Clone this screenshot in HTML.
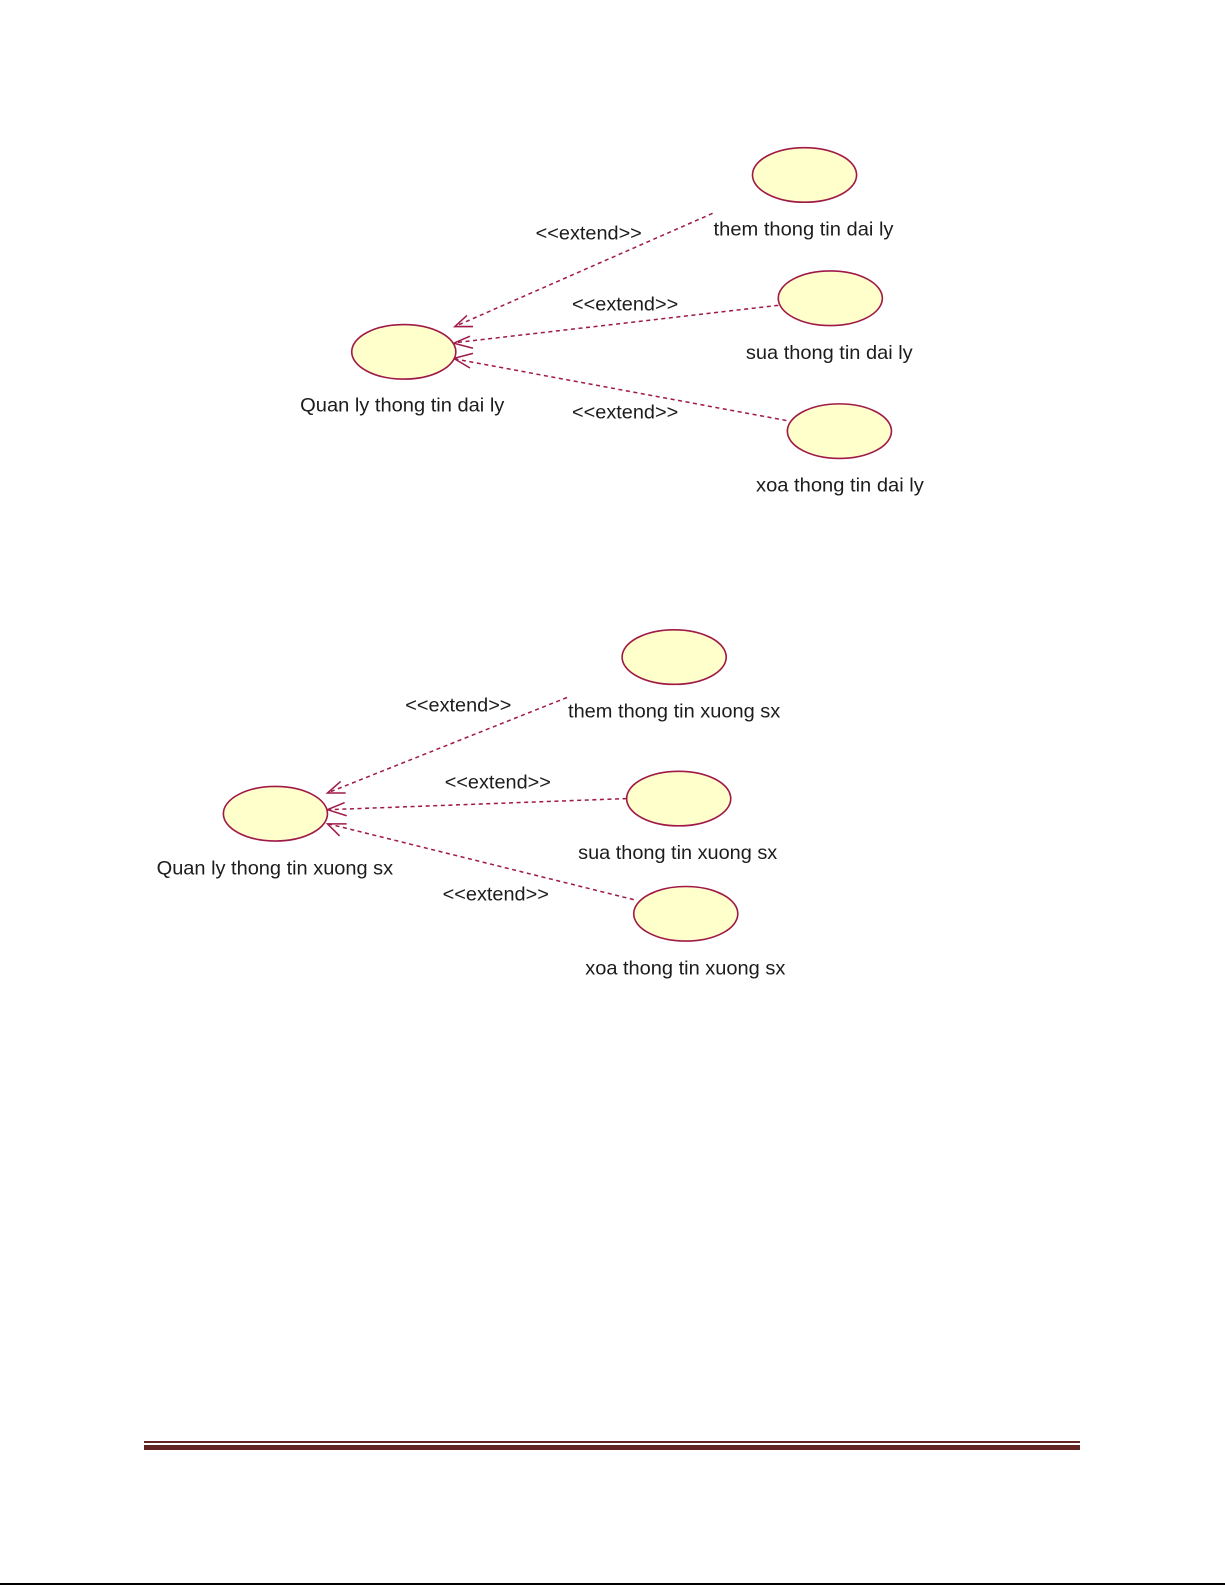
<!DOCTYPE html>
<html>
<head>
<meta charset="utf-8">
<style>
html,body{margin:0;padding:0;background:#fff;width:1225px;height:1585px;overflow:hidden}
#c{position:relative;width:1225px;height:1585px;background:#fff;overflow:hidden}
svg{position:absolute;left:0;top:0;filter:blur(0.35px)}
.r{position:absolute;background:#622423}
text{font-family:"Liberation Sans",sans-serif;font-size:19px;fill:#1c1c1c}
ellipse{fill:#ffffcc;stroke:#a01a48;stroke-width:1.6}
.d{fill:none;stroke:#a01a48;stroke-width:1.5;stroke-dasharray:4 3.5}
.a{fill:none;stroke:#a01a48;stroke-width:1.5}
</style>
</head>
<body>
<div id="c">
<svg width="1225" height="1585" viewBox="0 0 1212 1568" xmlns="http://www.w3.org/2000/svg">
  <!-- top group -->
  <line class="d" x1="705" y1="211" x2="450" y2="323"/>
  <polyline class="a" points="462,312 450,323 468,323"/>
  <line class="d" x1="770" y1="302" x2="450" y2="339"/>
  <polyline class="a" points="465,332.5 449,339.5 468,344.5"/>
  <line class="d" x1="778" y1="416" x2="450" y2="355"/>
  <polyline class="a" points="468,349.5 449,354.5 465,364"/>
  <ellipse cx="399.5" cy="348" rx="51.5" ry="27"/>
  <ellipse cx="796" cy="173" rx="51.5" ry="27"/>
  <ellipse cx="821.5" cy="295" rx="51.5" ry="27"/>
  <ellipse cx="830.5" cy="426.5" rx="51.5" ry="27"/>
  <text x="530" y="237" textLength="105" lengthAdjust="spacingAndGlyphs">&lt;&lt;extend&gt;&gt;</text>
  <text x="566" y="307" textLength="105" lengthAdjust="spacingAndGlyphs">&lt;&lt;extend&gt;&gt;</text>
  <text x="566" y="414" textLength="105" lengthAdjust="spacingAndGlyphs">&lt;&lt;extend&gt;&gt;</text>
  <text x="706" y="233" textLength="178" lengthAdjust="spacingAndGlyphs">them thong tin dai ly</text>
  <text x="738" y="355" textLength="165" lengthAdjust="spacingAndGlyphs">sua thong tin dai ly</text>
  <text x="748" y="486" textLength="166" lengthAdjust="spacingAndGlyphs">xoa thong tin dai ly</text>
  <text x="297" y="407" textLength="202" lengthAdjust="spacingAndGlyphs">Quan ly thong tin dai ly</text>
  <!-- bottom group -->
  <line class="d" x1="561" y1="690" x2="325" y2="784"/>
  <polyline class="a" points="337,773 324,784.5 342,784.5"/>
  <line class="d" x1="620" y1="790" x2="325" y2="801"/>
  <polyline class="a" points="341,794 324,801 343,807"/>
  <line class="d" x1="627" y1="890" x2="325" y2="815"/>
  <polyline class="a" points="343,815 324,815 336,827"/>
  <ellipse cx="272.5" cy="805" rx="51.5" ry="27"/>
  <ellipse cx="667" cy="650" rx="51.5" ry="27"/>
  <ellipse cx="671.5" cy="790" rx="51.5" ry="27"/>
  <ellipse cx="678.5" cy="904" rx="51.5" ry="27"/>
  <text x="401" y="704" textLength="105" lengthAdjust="spacingAndGlyphs">&lt;&lt;extend&gt;&gt;</text>
  <text x="440" y="780" textLength="105" lengthAdjust="spacingAndGlyphs">&lt;&lt;extend&gt;&gt;</text>
  <text x="438" y="891" textLength="105" lengthAdjust="spacingAndGlyphs">&lt;&lt;extend&gt;&gt;</text>
  <text x="562" y="710" textLength="210" lengthAdjust="spacingAndGlyphs">them thong tin xuong sx</text>
  <text x="572" y="850" textLength="197" lengthAdjust="spacingAndGlyphs">sua thong tin xuong sx</text>
  <text x="579" y="964" textLength="198" lengthAdjust="spacingAndGlyphs">xoa thong tin xuong sx</text>
  <text x="155" y="865" textLength="234" lengthAdjust="spacingAndGlyphs">Quan ly thong tin xuong sx</text>
</svg>
<div class="r" style="left:144px;top:1441px;width:936px;height:2px"></div>
<div class="r" style="left:144px;top:1445px;width:936px;height:5px"></div>
<div style="position:absolute;left:0;top:1583px;width:1225px;height:2px;background:#000"></div>
</div>
</body>
</html>
